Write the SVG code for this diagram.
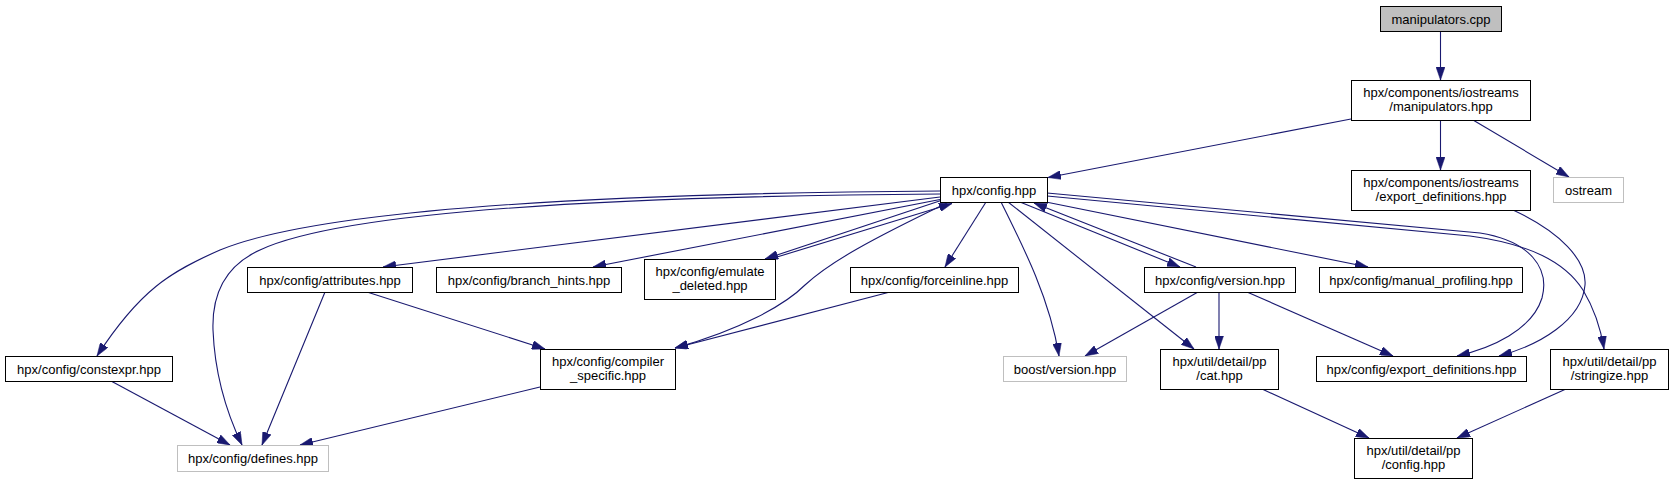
<svg xmlns="http://www.w3.org/2000/svg" width="1674" height="484" viewBox="0 0 1674 484">
<style>
.n rect{fill:#ffffff;stroke:#000000;stroke-width:1}
.n.root rect{fill:#bfbfbf}
.n.ext rect{stroke:#bfbfbf}
.n text{font-family:"Liberation Sans",Arial,sans-serif;font-size:13px;fill:#000000;text-anchor:middle}
#edges path{fill:none;stroke:#191970;stroke-width:1.1;marker-end:url(#ah)}
</style>
<defs>
<marker id="ah" viewBox="0 0 13 9" refX="13" refY="4.5" markerWidth="13" markerHeight="9" markerUnits="userSpaceOnUse" orient="auto">
<path d="M0,0 L13,4.5 L0,9 z" fill="#191970" stroke="#191970" stroke-width="0.5"/>
</marker>
</defs>
<rect width="1674" height="484" fill="#ffffff"/>
<g id="edges">
<path d="M1440.5,31 L1440.5,80"/>
<path d="M1351,119 L1048,177.5"/>
<path d="M1440.5,120 L1440.5,170"/>
<path d="M1473,120 L1569,177"/>
<path d="M1513,210 C1560,232 1587,260 1585,285 C1582,320 1540,345 1499,356"/>
<path d="M1047,193 L1480,233 C1530,241 1550,268 1542,298 C1532,330 1492,348 1457,356"/>
<path d="M1047,196 L1470,236 C1530,244 1565,262 1583,290 C1595,310 1601,330 1604,349"/>
<path d="M1046,202 L1368,267"/>
<path d="M1020,202 L1180,267"/>
<path d="M1196,267 L1034,203"/>
<path d="M986,202 L945,267"/>
<path d="M1001,202 C1025,250 1050,300 1059,356"/>
<path d="M1008,202 L1194,349"/>
<path d="M1198,292 L1085,356"/>
<path d="M1219,292 L1219,349"/>
<path d="M1247,292 L1393,356"/>
<path d="M940,191 C650,193 330,205 220,250 C170,272 140,290 97,356"/>
<path d="M940,194 C650,196 350,208 260,250 C220,268 212,300 213,330 C215,380 230,420 242,445"/>
<path d="M940,197 L383,267"/>
<path d="M940,199.5 L593,267"/>
<path d="M941,200.5 L765,259"/>
<path d="M777,257 L952,203.5"/>
<path d="M947,203 C870,240 830,262 805,285 C785,305 740,330 675,348"/>
<path d="M890,292 L675,348"/>
<path d="M367,292 L545,349"/>
<path d="M325,292 L262,445"/>
<path d="M111,381 L230,445"/>
<path d="M540,387 L300,445"/>
<path d="M1262,389 L1369,438"/>
<path d="M1566,389 L1457,438"/>
</g>
<g id="manipulators_cpp" class="n root"><rect x="1380.5" y="6.5" width="121" height="25"/><text x="1441" y="23.5">manipulators.cpp</text></g>
<g id="iostreams_manipulators_hpp" class="n"><rect x="1351.5" y="80.5" width="179" height="40"/><text x="1441" y="96.5">hpx/components/iostreams</text><text x="1441" y="110.5">/manipulators.hpp</text></g>
<g id="iostreams_export_definitions_hpp" class="n"><rect x="1351.5" y="170.5" width="179" height="40"/><text x="1441" y="186.5">hpx/components/iostreams</text><text x="1441" y="200.5">/export_definitions.hpp</text></g>
<g id="ostream" class="n ext"><rect x="1553.5" y="177.5" width="70" height="25"/><text x="1588.5" y="194.5">ostream</text></g>
<g id="config_hpp" class="n"><rect x="940.5" y="177.5" width="107" height="25"/><text x="994" y="194.5">hpx/config.hpp</text></g>
<g id="attributes_hpp" class="n"><rect x="247.5" y="267.5" width="165" height="25"/><text x="330" y="284.5">hpx/config/attributes.hpp</text></g>
<g id="branch_hints_hpp" class="n"><rect x="436.5" y="267.5" width="185" height="25"/><text x="529" y="284.5">hpx/config/branch_hints.hpp</text></g>
<g id="emulate_deleted_hpp" class="n"><rect x="644.5" y="259.5" width="131" height="40"/><text x="710" y="275.5">hpx/config/emulate</text><text x="710" y="289.5">_deleted.hpp</text></g>
<g id="forceinline_hpp" class="n"><rect x="850.5" y="267.5" width="168" height="25"/><text x="934.5" y="284.5">hpx/config/forceinline.hpp</text></g>
<g id="version_hpp" class="n"><rect x="1144.5" y="267.5" width="151" height="25"/><text x="1220" y="284.5">hpx/config/version.hpp</text></g>
<g id="manual_profiling_hpp" class="n"><rect x="1319.5" y="267.5" width="203" height="25"/><text x="1421" y="284.5">hpx/config/manual_profiling.hpp</text></g>
<g id="constexpr_hpp" class="n"><rect x="5.5" y="356.5" width="167" height="25"/><text x="89" y="373.5">hpx/config/constexpr.hpp</text></g>
<g id="compiler_specific_hpp" class="n"><rect x="540.5" y="349.5" width="135" height="40"/><text x="608" y="365.5">hpx/config/compiler</text><text x="608" y="379.5">_specific.hpp</text></g>
<g id="boost_version_hpp" class="n ext"><rect x="1003.5" y="356.5" width="123" height="25"/><text x="1065" y="373.5">boost/version.hpp</text></g>
<g id="cat_hpp" class="n"><rect x="1160.5" y="349.5" width="118" height="40"/><text x="1219.5" y="365.5">hpx/util/detail/pp</text><text x="1219.5" y="379.5">/cat.hpp</text></g>
<g id="export_definitions_hpp" class="n"><rect x="1316.5" y="356.5" width="210" height="25"/><text x="1421.5" y="373.5">hpx/config/export_definitions.hpp</text></g>
<g id="stringize_hpp" class="n"><rect x="1550.5" y="349.5" width="118" height="40"/><text x="1609.5" y="365.5">hpx/util/detail/pp</text><text x="1609.5" y="379.5">/stringize.hpp</text></g>
<g id="defines_hpp" class="n ext"><rect x="177.5" y="445.5" width="151" height="26"/><text x="253" y="463">hpx/config/defines.hpp</text></g>
<g id="pp_config_hpp" class="n"><rect x="1354.5" y="438.5" width="118" height="40"/><text x="1413.5" y="454.5">hpx/util/detail/pp</text><text x="1413.5" y="468.5">/config.hpp</text></g>
</svg>
